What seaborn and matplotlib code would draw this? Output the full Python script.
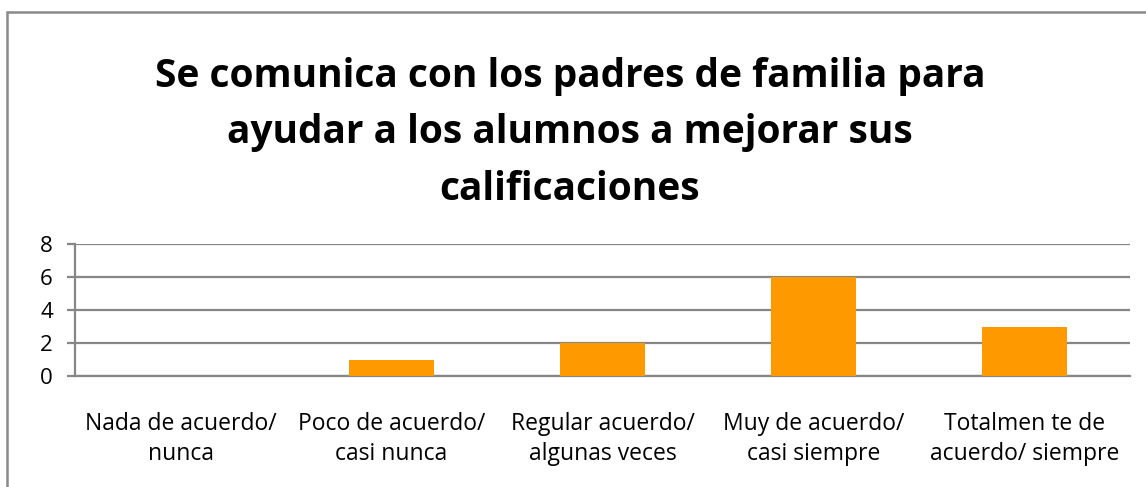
import matplotlib
matplotlib.use("Agg")
import matplotlib.pyplot as plt
import seaborn as sns
import pandas as pd
from matplotlib.patches import Rectangle

categories = ["Nada de acuerdo/\nnunca", "Poco de acuerdo/\ncasi nunca",
              "Regular acuerdo/\nalgunas veces", "Muy de acuerdo/\ncasi siempre",
              "Totalmen te de\nacuerdo/ siempre"]
values = [0, 1, 2, 6, 3]
yticks = [0, 2, 4, 6, 8]
title = "Se comunica con los padres de familia para\nayudar a los alumnos a mejorar sus\ncalificaciones"

sns.set_style("white")
plt.rcParams['font.family'] = ['Open Sans', 'DejaVu Sans']
plt.rcParams['text.color'] = 'black'
plt.rcParams['xtick.color'] = 'black'
plt.rcParams['ytick.color'] = 'black'

df = pd.DataFrame({"cat": categories, "val": values})

fig = plt.figure(figsize=(11.46, 4.87), dpi=100)
ax = fig.add_axes([75/1146, 1-376/487, (1130-75)/1146, (376-244)/487])
sns.barplot(data=df, x="cat", y="val", ax=ax, color="#FF9900", width=0.4,
            saturation=1, zorder=3, linewidth=0)
ax.set_ylim(0, 8)
ax.set_xlim(-0.5, len(categories) - 0.5)
ax.set_yticks(yticks)
ax.set_yticklabels([str(v) for v in yticks], fontsize=16)
ax.set_xlabel("")
ax.set_ylabel("")
grid_c = "#868686"
for y in yticks:
    ax.axhline(y, color=grid_c, lw=1.6, zorder=1)
for s in ["top", "right"]:
    ax.spines[s].set_visible(False)
ax.spines["left"].set_color(grid_c)
ax.spines["left"].set_linewidth(1.6)
ax.spines["bottom"].set_color(grid_c)
ax.spines["bottom"].set_linewidth(1.6)
ax.tick_params(axis="y", which="both", left=True, length=6, width=1.6, color=grid_c,
               direction="out", pad=10, labelsize=16, labelcolor="black")
ax.set_xticks([i for i in range(len(categories))])
ax.set_xticklabels(categories, fontsize=16.5, linespacing=1.3)
ax.tick_params(axis="x", which="major", length=0, pad=26, labelcolor="black")
ax.set_xticks([i - 0.5 for i in range(len(categories) + 1)], minor=True)
ax.tick_params(axis="x", which="minor", length=7, width=1.6, color=grid_c, direction="out")

fig.text(570/1146, 1-133/487, title, ha="center", va="center", fontsize=28,
         fontweight="bold", linespacing=1.6, color="black")

fig.patches.append(Rectangle((7/1146, -0.1), 1.2, 1 - 12/487 + 0.1,
                             transform=fig.transFigure, fill=False,
                             edgecolor="#898989", lw=1.8))
fig.savefig("out.png", dpi=100)
